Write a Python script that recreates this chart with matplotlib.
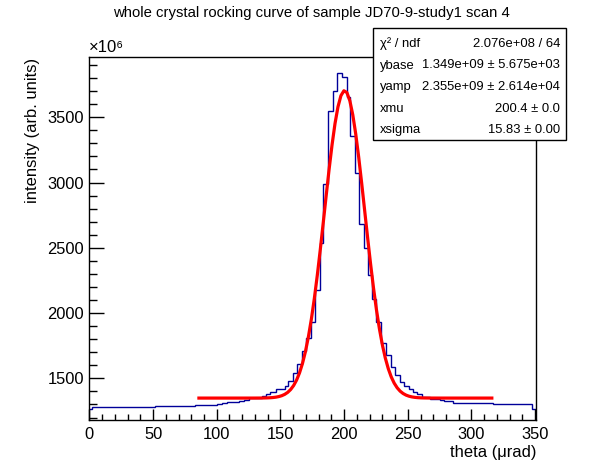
import numpy as np
import matplotlib
matplotlib.use("Agg")
from matplotlib import pyplot as plt
from matplotlib.patches import Rectangle
from matplotlib.ticker import MultipleLocator

plt.rcParams['font.family'] = ['Liberation Sans', 'DejaVu Sans']

# histogram: variable bin edges (theta, urad) and contents (x 1e6)
bin_edges = [0, 2.2, 51.5, 82.9, 100.0, 103.9, 107.9, 117.5, 121.7, 125.0,
             135.4, 139.0, 141.9, 146.2, 153.7, 156.3, 159.7, 163.4, 166.8,
             170.2, 173.9, 177.3, 180.7, 183.8, 187.7, 191.2, 194.8, 198.3,
             202.2, 204.8, 208.2, 212.0, 215.6, 218.7, 221.9, 225.0, 228.8,
             232.9, 236.8, 240.2, 244.1, 247.2, 250.6, 254.1, 257.2, 261.2,
             267.7, 275.0, 278.1, 285.5, 302.3, 317.0, 347.6, 351.0]
bin_counts = [1269, 1277, 1287, 1295, 1302, 1310, 1318, 1325, 1335, 1346,
              1364, 1379, 1395, 1415, 1441, 1482, 1538, 1610, 1710, 1808,
              1935, 2179, 2538, 2987, 3551, 3700, 3838, 3805, 3654, 3354,
              3069, 2685, 2500, 2295, 2108, 1935, 1772, 1679, 1585, 1525,
              1469, 1441, 1415, 1397, 1377, 1358, 1341, 1331, 1323, 1315,
              1308, 1300, 1269]

# fit parameters (y in units of 1e6)
ybase = 1349.0
yamp = 2355.0
xmu = 200.4
xsigma = 15.83
fit_range = (86.0, 316.0)

stat_names = ['\u03c7\u00b2 / ndf', 'ybase', 'yamp', 'xmu', 'xsigma']
stat_values = ['2.076e+08 / 64', '1.349e+09 \u00b1 5.675e+03',
               '2.355e+09 \u00b1 2.614e+04', '200.4 \u00b1 0.0',
               '15.83 \u00b1 0.00']

W, H = 596, 472
fig = plt.figure(figsize=(W / 100, H / 100), dpi=100)
ax = fig.add_axes([0.15, 0.11, 0.75, 0.77])

ax.stairs(bin_counts, bin_edges, baseline=None, color='#000099', lw=1.0)

xf = np.linspace(fit_range[0], fit_range[1], 100)
yf = ybase + yamp * np.exp(-0.5 * ((xf - xmu) / xsigma) ** 2)
ax.plot(xf, yf, color='red', lw=2.3)

ax.set_xlim(0, 351)
ax.set_ylim(1180.5, 3964)
ax.xaxis.set_major_locator(MultipleLocator(50))
ax.xaxis.set_minor_locator(MultipleLocator(10))
ax.yaxis.set_major_locator(MultipleLocator(500))
ax.yaxis.set_minor_locator(MultipleLocator(100))
ax.tick_params(which='both', direction='in', top=False, right=False,
               labelsize=11.9, width=1.0)
ax.tick_params(axis='x', which='major', length=8, pad=5)
ax.tick_params(axis='x', which='minor', length=4)
ax.tick_params(axis='y', which='major', length=10.8, pad=4)
ax.tick_params(axis='y', which='minor', length=5.4)
for s in ax.spines.values():
    s.set_linewidth(1.0)

fig.text(311.5 / W, 1 - 13 / H,
         'whole crystal rocking curve of sample JD70-9-study1 scan 4',
         ha='center', va='center', fontsize=10.7)
fig.text(89 / W, 1 - 47 / H, '\u00d710\u2076', ha='left', va='center',
         fontsize=12)
fig.text(33 / W, 1 - 58 / H, 'intensity (arb. units)', rotation=90,
         ha='center', va='top', fontsize=11.9)
fig.text(536 / W, 1 - 452 / H, 'theta (\u03bcrad)', ha='right',
         va='center', fontsize=11.9)

# stats box
bx0, bx1, by0, by1 = 373, 566, 28, 140
fig.add_artist(Rectangle((bx0 / W, 1 - by1 / H), (bx1 - bx0) / W,
                         (by1 - by0) / H, transform=fig.transFigure,
                         facecolor='white', edgecolor='black', lw=1.0,
                         zorder=5))
row_y = [44, 65.5, 87, 108.5, 130]
for name, val, yr in zip(stat_names, stat_values, row_y):
    yc = 1 - yr / H
    fig.text(380 / W, yc, name, ha='left', va='center', fontsize=9.4,
             zorder=6)
    fig.text(560 / W, yc, val, ha='right', va='center', fontsize=9.4,
             zorder=6)

fig.savefig('out.png', dpi=100)
